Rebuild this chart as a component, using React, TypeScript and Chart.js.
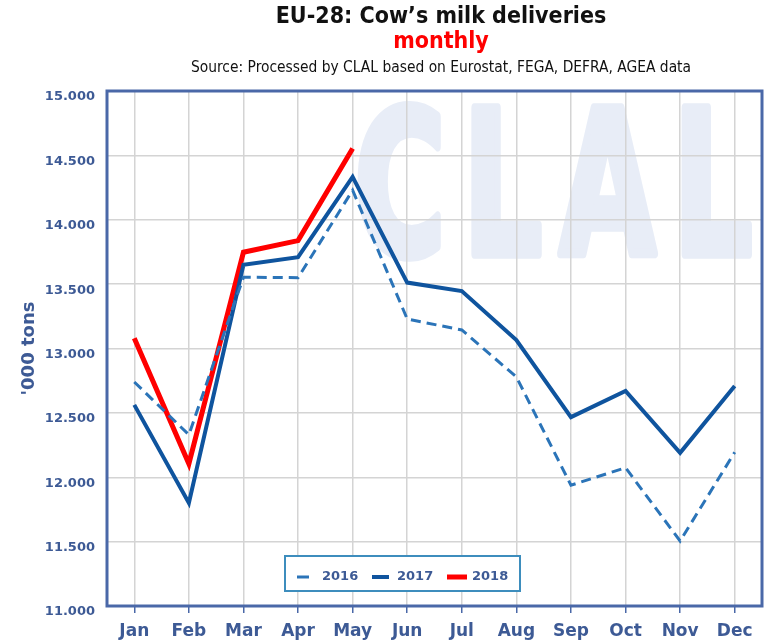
import React, { useEffect, useRef } from 'react';
import { Chart, registerables } from 'chart.js';

Chart.register(...registerables);

const months = ['Jan', 'Feb', 'Mar', 'Apr', 'May', 'Jun', 'Jul', 'Aug', 'Sep', 'Oct', 'Nov', 'Dec'];
const seriesLabels = ['2016', '2017', '2018'];
const values2016 = [12740, 12330, 13554, 13550, 14229, 13229, 13144, 12779, 11938, 12074, 11505, 12194];
const values2017 = [12562, 11800, 13650, 13709, 14333, 13512, 13446, 13066, 12467, 12671, 12190, 12709];
const values2018 = [13080, 12105, 13748, 13838, 14554];
const yTicks = [11000, 11500, 12000, 12500, 13000, 13500, 14000, 14500, 15000];
const titleText = 'EU-28: Cow\u2019s milk deliveries';
const subtitleText = 'monthly';
const sourceText = 'Source: Processed by CLAL based on Eurostat, FEGA, DEFRA, AGEA data';
const yAxisTitle = '\'000 tons';
const watermarkText = 'CLAL';

const LABEL_COLOR = '#3d5a95';
const FRAME_COLOR = '#4a68a8';

const decorPlugin = {
  id: 'decor',
  beforeDraw(chart: any) {
    const { ctx, chartArea } = chart;
    ctx.save();
    ctx.beginPath();
    ctx.rect(chartArea.left, chartArea.top, chartArea.right - chartArea.left, chartArea.bottom - chartArea.top);
    ctx.clip();
    ctx.font = 'bold 200px "DejaVu Sans"';
    (ctx as any).letterSpacing = '28px';
    ctx.textBaseline = 'alphabetic';
    ctx.textAlign = 'left';
    const m = ctx.measureText(watermarkText);
    const textW = m.actualBoundingBoxLeft + m.actualBoundingBoxRight;
    const textH = m.actualBoundingBoxAscent;
    const stroke = 6;
    const boxL = chartArea.left + 250;
    const boxT = chartArea.top + 11;
    const boxW = 395;
    const boxH = 155;
    const sx = (boxW - stroke) / textW;
    const sy = (boxH - stroke) / textH;
    ctx.translate(boxL + stroke / 2, boxT + stroke / 2);
    ctx.scale(sx, sy);
    ctx.translate(m.actualBoundingBoxLeft, textH);
    ctx.fillStyle = '#e8edf7';
    ctx.strokeStyle = '#e8edf7';
    ctx.lineJoin = 'round';
    ctx.lineWidth = stroke / sx;
    ctx.fillText(watermarkText, 0, 0);
    ctx.strokeText(watermarkText, 0, 0);
    ctx.restore();
  },
  afterDatasetsDraw(chart: any) {
    const { ctx, chartArea } = chart;
    ctx.save();
    // frame
    ctx.strokeStyle = FRAME_COLOR;
    ctx.lineWidth = 3;
    ctx.strokeRect(chartArea.left, chartArea.top, chartArea.right - chartArea.left, chartArea.bottom - chartArea.top);

    // titles
    const cx = 441;
    ctx.textAlign = 'center';
    ctx.textBaseline = 'middle';
    ctx.fillStyle = '#111111';
    ctx.font = 'bold 23px "DejaVu Sans Condensed"';
    ctx.fillText(titleText, cx, 17);
    ctx.fillStyle = '#ff0000';
    ctx.fillText(subtitleText, cx, 42);
    ctx.fillStyle = '#111111';
    ctx.font = '15.4px "DejaVu Sans Condensed"';
    ctx.fillText(sourceText, cx, 68);

    // legend
    const bx = 285, by = 556, bw = 235, bh = 35;
    ctx.fillStyle = '#ffffff';
    ctx.fillRect(bx, by, bw, bh);
    ctx.strokeStyle = '#3d8dbd';
    ctx.lineWidth = 2;
    ctx.strokeRect(bx, by, bw, bh);
    const items = [
      { x0: 297, x1: 309, tx: 322 },
      { x0: 372, x1: 389, tx: 397 },
      { x0: 447, x1: 467, tx: 472 },
    ];
    const ly = 577;
    chart.data.datasets.forEach((ds: any, i: number) => {
      const it = items[i];
      ctx.strokeStyle = ds.borderColor;
      ctx.lineWidth = ds.borderWidth;
      ctx.setLineDash([]);
      ctx.beginPath();
      ctx.moveTo(it.x0, ly);
      ctx.lineTo(it.x1, ly);
      ctx.stroke();
      ctx.fillStyle = LABEL_COLOR;
      ctx.font = 'bold 13px "DejaVu Sans"';
      ctx.textAlign = 'left';
      ctx.fillText(ds.label, it.tx, ly);
    });
    ctx.restore();
  },
};

export default function App() {
  const ref = useRef<HTMLCanvasElement | null>(null);
  useEffect(() => {
    if (!ref.current) return;
    const chart = new Chart(ref.current, {
      type: 'line',
      data: {
        labels: months,
        datasets: [
          {
            label: seriesLabels[0],
            data: values2016,
            borderColor: '#2b74b8',
            borderWidth: 3,
            borderDash: [10, 6],
            pointRadius: 0,
            fill: false,
            tension: 0,
          },
          {
            label: seriesLabels[1],
            data: values2017,
            borderColor: '#0f549e',
            borderWidth: 4,
            pointRadius: 0,
            fill: false,
            tension: 0,
          },
          {
            label: seriesLabels[2],
            data: values2018,
            borderColor: '#ff0000',
            borderWidth: 5,
            pointRadius: 0,
            fill: false,
            tension: 0,
          },
        ],
      },
      options: {
        animation: false,
        responsive: true,
        maintainAspectRatio: false,
        layout: { padding: { top: 91, right: 5, left: 0, bottom: 0 } },
        plugins: {
          legend: { display: false },
          title: { display: false },
          tooltip: { enabled: false },
        },
        scales: {
          x: {
            type: 'category',
            offset: true,
            grid: {
              offset: false,
              color: '#d4d4d4',
              lineWidth: 1.5,
              drawTicks: true,
              tickLength: 7,
              tickColor: FRAME_COLOR,
              tickWidth: 1.5,
            },
            border: { display: false },
            ticks: {
              color: LABEL_COLOR,
              font: { family: '"DejaVu Sans"', size: 17, weight: 'bold' },
              padding: 8,
              maxRotation: 0,
              autoSkip: false,
            },
            afterFit(scale: any) {
              scale.height = 34;
            },
          },
          y: {
            min: 11000,
            max: 15000,
            afterBuildTicks(scale: any) {
              scale.ticks = yTicks.map((v) => ({ value: v }));
            },
            grid: {
              color: '#d4d4d4',
              lineWidth: 1.5,
              drawTicks: false,
            },
            border: { display: false },
            ticks: {
              color: LABEL_COLOR,
              font: { family: '"DejaVu Sans"', size: 13, weight: 'bold' },
              padding: 12,
              labelOffset: 6,
              callback: (v: any) => (Number(v) / 1000).toFixed(3),
            },
            title: {
              display: true,
              text: yAxisTitle,
              color: LABEL_COLOR,
              font: { family: '"DejaVu Sans"', size: 18, weight: 'bold' },
              padding: { top: 19, bottom: 0 },
            },
            afterFit(scale: any) {
              scale.width = 107;
            },
          },
        },
      },
      plugins: [decorPlugin],
    });
    return () => chart.destroy();
  }, []);

  return (
    <div style={{ position: 'absolute', left: 0, top: 0, width: 767, height: 640, background: '#ffffff' }}>
      <canvas ref={ref} />
    </div>
  );
}
